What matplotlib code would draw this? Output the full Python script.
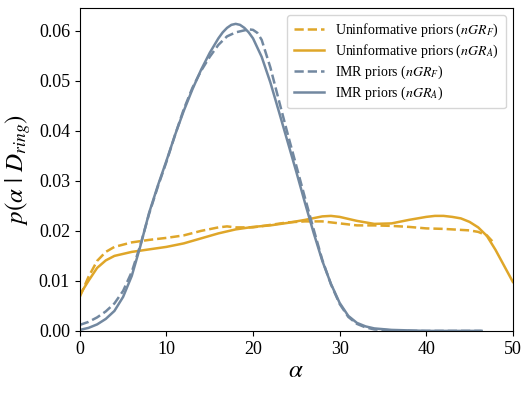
import matplotlib
matplotlib.use("Agg")
import matplotlib.pyplot as plt

plt.rcParams['font.family'] = ['Liberation Serif', 'DejaVu Serif']
plt.rcParams['mathtext.fontset'] = 'stix'

# posterior on alpha
a_unif = [0, 1, 2, 3, 4, 6, 8, 10, 12, 14, 16, 18, 20, 22, 24, 26, 28, 29, 30, 32,
          34, 36, 38, 40, 41, 42, 43, 44, 45, 46, 47, 48, 49, 50]
unif_A = [0.0072, 0.0100, 0.0126, 0.0141, 0.0150, 0.0158, 0.0163, 0.0168, 0.0175,
          0.0185, 0.0195, 0.0203, 0.0208, 0.0211, 0.0216, 0.0222, 0.0229, 0.0230,
          0.0228, 0.0220, 0.0214, 0.0215, 0.0222, 0.0228, 0.0230, 0.0230, 0.0228,
          0.0225, 0.0218, 0.0207, 0.0190, 0.0162, 0.0130, 0.0098]

a_unif_F = [0, 1, 2, 3, 4, 6, 8, 10, 12, 14, 16, 17, 18, 20, 22, 24, 26, 28, 30,
            32, 34, 36, 38, 40, 42, 44, 45, 46, 47, 47.7]
unif_F = [0.0068, 0.0108, 0.0140, 0.0158, 0.0168, 0.0177, 0.0182, 0.0186, 0.0191,
          0.0200, 0.0207, 0.0209, 0.0207, 0.0207, 0.0212, 0.0217, 0.0219, 0.0219,
          0.0215, 0.0211, 0.0211, 0.0210, 0.0208, 0.0205, 0.0204, 0.0202, 0.0201,
          0.0198, 0.0191, 0.0178]

a_imr = [0, 1, 2, 3, 4, 5, 6, 7, 8, 9, 10, 11, 12, 13, 14, 15, 16, 16.5, 17, 17.5,
         18, 18.5, 19, 19.5, 20, 21, 22, 23, 24, 25, 26, 27, 28, 29, 30, 31, 32, 33,
         34, 36, 38, 40, 43, 46.4]
imr_A = [0.0002, 0.0006, 0.0013, 0.0024, 0.0040, 0.0068, 0.0110, 0.0170, 0.0236,
         0.0290, 0.0340, 0.0392, 0.0440, 0.0483, 0.0522, 0.0556, 0.0585, 0.0597,
         0.0606, 0.0612, 0.0614, 0.0612, 0.0606, 0.0597, 0.0585, 0.0548, 0.0497,
         0.0438, 0.0378, 0.0318, 0.0256, 0.0196, 0.0140, 0.0094, 0.0056, 0.0030,
         0.0016, 0.0009, 0.0005, 0.0002, 0.0001, 0.0000, 0.0000, 0.0000]

a_imr_F = [0, 1, 2, 3, 4, 5, 6, 7, 8, 9, 10, 11, 12, 13, 14, 15, 16, 17, 18, 18.5,
           19, 19.5, 20, 20.5, 21, 22, 23, 24, 25, 26, 27, 28, 29, 30, 31, 32, 33,
           34, 36, 38, 40, 43, 46.4]
imr_F = [0.0012, 0.0018, 0.0027, 0.0039, 0.0055, 0.0080, 0.0118, 0.0172, 0.0234,
         0.0288, 0.0338, 0.0392, 0.0443, 0.0486, 0.0520, 0.0548, 0.0572, 0.0589,
         0.0597, 0.0599, 0.0601, 0.0603, 0.0602, 0.0596, 0.0582, 0.0527, 0.0460,
         0.0394, 0.0330, 0.0266, 0.0203, 0.0142, 0.0093, 0.0054, 0.0028, 0.0014,
         0.0007, 0.0003, 0.0001, 0.0000, 0.0000, 0.0000, 0.0000]

gold = '#DFA629'
slate = '#7288A0'

fig = plt.figure(figsize=(5.32, 3.93), dpi=100)
ax = fig.add_axes([0.150, 0.158, 0.814, 0.822])

ax.plot(a_unif_F, unif_F, color=gold, lw=1.8, ls='--', label=r'Uninformative priors ($nGR_F$)')
ax.plot(a_unif, unif_A, color=gold, lw=1.8, label=r'Uninformative priors ($nGR_A$)')
ax.plot(a_imr_F, imr_F, color=slate, lw=1.8, ls='--', label=r'IMR priors ($nGR_F$)')
ax.plot(a_imr, imr_A, color=slate, lw=1.8, label=r'IMR priors ($nGR_A$)')

ax.set_xlim(0, 50)
ax.set_ylim(0, 0.0646)
ax.set_xticks([0, 10, 20, 30, 40, 50])
ax.set_yticks([0, 0.01, 0.02, 0.03, 0.04, 0.05, 0.06])
ax.set_yticklabels(['0.00', '0.01', '0.02', '0.03', '0.04', '0.05', '0.06'])
ax.tick_params(labelsize=13)
ax.set_xlabel(r'$\alpha$', fontsize=18, labelpad=2)
ax.set_ylabel(r'$p(\alpha\ |\ D_{ring})$', fontsize=18, labelpad=4)

ax.legend(loc='upper right', fontsize=10, frameon=True, handlelength=2.2,
          borderpad=0.5, labelspacing=0.25)

fig.savefig('out.png', dpi=100)
